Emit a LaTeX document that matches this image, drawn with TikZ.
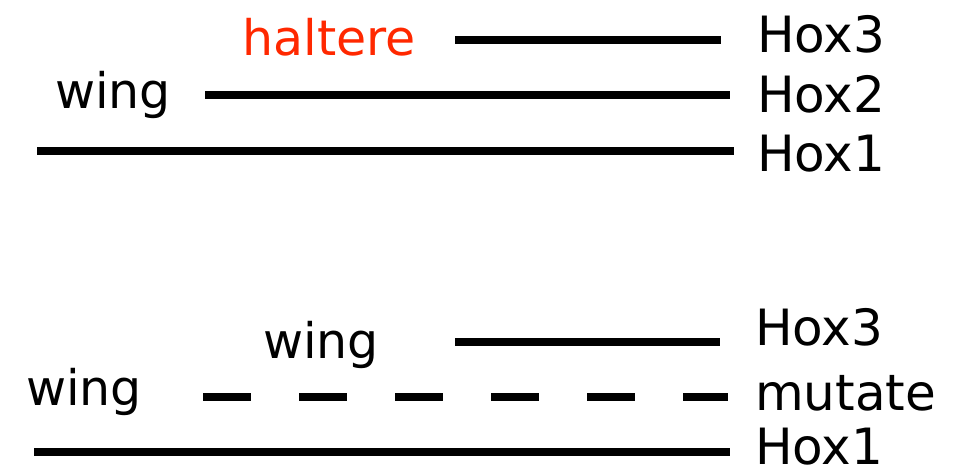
\documentclass[tikz,border=0pt]{standalone}
\usepackage{fontspec}
\setmainfont{DejaVu Sans}
\definecolor{halred}{RGB}{255,40,0}
\begin{document}
\begin{tikzpicture}[x=1pt,y=-1pt,
  lbl/.style={inner sep=0pt,anchor=base west,font=\fontsize{50}{60}\selectfont},
  tag/.style={inner sep=0pt,anchor=base,font=\fontsize{49}{58}\selectfont},
  band/.style={line width=8.5pt},
  lostband/.style={line width=8.5pt,dash pattern=on 48pt off 48pt}]
\useasboundingbox (0,0) rectangle (966,467);

% wild type: three Hox expression domains
\coordinate (t3a) at (455,40);  \coordinate (t3b) at (721,40);
\coordinate (t2a) at (205,95);  \coordinate (t2b) at (730,95);
\coordinate (t1a) at (37,151);  \coordinate (t1b) at (734,151);
\draw[band] (t3a) -- (t3b);
\draw[band] (t2a) -- (t2b);
\draw[band] (t1a) -- (t1b);
\node[lbl] (th3) at (757,52) {Hox3};
\node[lbl] (th2) at (757,112) {Hox2};
\node[lbl] (th1) at (757,171) {Hox1};
\node[tag,text=halred] (thal) at (329,55) {haltere};
\node[tag] (twing) at (113,108) {wing};

% mutant: Hox2 lost
\coordinate (b3a) at (455,342); \coordinate (b3b) at (720,342);
\coordinate (b2a) at (203,397); \coordinate (b2b) at (728,397);
\coordinate (b1a) at (34,452);  \coordinate (b1b) at (730,452);
\draw[band] (b3a) -- (b3b);
\draw[lostband] (b2a) -- (b2b);
\draw[band] (b1a) -- (b1b);
\node[lbl] (bh3) at (755,345) {Hox3};
\node[lbl] (bmut) at (755,410) {mutate};
\node[lbl] (bh1) at (755,464) {Hox1};
\node[tag] (bwing1) at (321,358) {wing};
\node[tag] (bwing2) at (84,405) {wing};
\end{tikzpicture}
\end{document}
